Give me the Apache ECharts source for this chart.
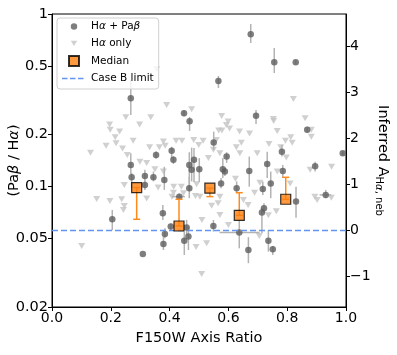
<!DOCTYPE html>
<html>
<head>
<meta charset="utf-8">
<script src="https://cdn.jsdelivr.net/npm/echarts@6/dist/echarts.min.js"></script>
<style>
html, body { margin: 0; padding: 0; background: #fff; }
#main { width: 397px; height: 355px; }
</style>
</head>
<body>
<div id="main"></div>
<script>
// detections: [axis ratio, Paβ/Hα, lower, upper]
var detected = [
  [0.676, 0.763, 0.679, 0.875], [0.756, 0.525, 0.455, 0.635], [0.829, 0.525, 0.51, 0.54],
  [0.566, 0.409, 0.372, 0.437], [0.268, 0.325, 0.260, 0.414], [0.449, 0.266, 0.255, 0.277],
  [0.694, 0.257, 0.230, 0.278], [0.468, 0.239, 0.210, 0.253], [0.868, 0.213, 0.205, 0.222],
  [0.550, 0.180, 0.163, 0.208], [0.354, 0.152, 0.145, 0.160], [0.407, 0.161, 0.146, 0.170],
  [0.413, 0.143, 0.135, 0.150], [0.483, 0.143, 0.106, 0.167], [0.467, 0.133, 0.098, 0.158],
  [0.475, 0.125, 0.107, 0.168], [0.501, 0.126, 0.106, 0.146], [0.594, 0.149, 0.137, 0.158],
  [0.581, 0.126, 0.112, 0.146], [0.588, 0.122, 0.115, 0.128], [0.671, 0.123, 0.0997, 0.149],
  [0.732, 0.135, 0.112, 0.159], [0.782, 0.159, 0.149, 0.174], [0.785, 0.123, 0.112, 0.133],
  [0.895, 0.131, 0.122, 0.139], [0.989, 0.156, 0.152, 0.160], [0.268, 0.133, 0.117, 0.156],
  [0.271, 0.113, 0.098, 0.120], [0.316, 0.115, 0.105, 0.125], [0.345, 0.113, 0.107, 0.122],
  [0.382, 0.109, 0.0955, 0.130], [0.316, 0.102, 0.0955, 0.107], [0.467, 0.0977, 0.0855, 0.114],
  [0.575, 0.104, 0.0977, 0.112], [0.628, 0.0977, 0.0914, 0.107], [0.717, 0.0968, 0.0893, 0.107],
  [0.744, 0.104, 0.0855, 0.122], [0.433, 0.0873, 0.084, 0.091], [0.830, 0.0817, 0.0659, 0.0997],
  [0.931, 0.0893, 0.0855, 0.0955], [0.721, 0.0747, 0.070, 0.080], [0.714, 0.0706, 0.0537, 0.075],
  [0.377, 0.070, 0.064, 0.078], [0.205, 0.0645, 0.0557, 0.0731], [0.404, 0.0585, 0.056, 0.061],
  [0.384, 0.053, 0.0501, 0.0573], [0.379, 0.0464, 0.0428, 0.0512], [0.309, 0.0406, 0.0406, 0.0406],
  [0.458, 0.0579, 0.0524, 0.064], [0.464, 0.0512, 0.0428, 0.0585], [0.450, 0.0485, 0.0401, 0.0547],
  [0.549, 0.059, 0.0547, 0.064], [0.637, 0.054, 0.0438, 0.064], [0.668, 0.0428, 0.0359, 0.0508],
  [0.736, 0.0485, 0.0419, 0.0557], [0.751, 0.0432, 0.0401, 0.0452]
];
// horizontal errors: [ratio, axis ratio low, axis ratio high]
var detectedXErr = [
  [0.0873, 0.408, 0.452], [0.0893, 0.910, 0.950], [0.054, 0.570, 0.706]
];
// Hα only (upper limits)
var haOnly = [
  [0.356, 0.478], [0.390, 0.297], [0.475, 0.280], [0.821, 0.321], [0.251, 0.252], [0.336, 0.252],
  [0.577, 0.256], [0.753, 0.246], [0.861, 0.249], [0.298, 0.229], [0.196, 0.229], [0.198, 0.213],
  [0.230, 0.208], [0.215, 0.193], [0.276, 0.184], [0.218, 0.178], [0.184, 0.172], [0.240, 0.166],
  [0.379, 0.182], [0.422, 0.184], [0.442, 0.184], [0.482, 0.186], [0.385, 0.172], [0.365, 0.169],
  [0.499, 0.174], [0.332, 0.169], [0.599, 0.238], [0.593, 0.227], [0.604, 0.217], [0.638, 0.208],
  [0.672, 0.203], [0.754, 0.240], [0.766, 0.210], [0.882, 0.213], [0.882, 0.194], [0.812, 0.193],
  [0.817, 0.179], [0.794, 0.184], [0.738, 0.176], [0.778, 0.169], [0.644, 0.179], [0.627, 0.169],
  [0.514, 0.184], [0.567, 0.211], [0.578, 0.211], [0.559, 0.186], [0.131, 0.157], [0.256, 0.152],
  [0.299, 0.139], [0.322, 0.137], [0.350, 0.126], [0.152, 0.0847], [0.197, 0.0824], [0.237, 0.0843],
  [0.246, 0.077], [0.322, 0.0852], [0.379, 0.122], [0.413, 0.092], [0.447, 0.0913], [0.492, 0.103],
  [0.503, 0.0873], [0.532, 0.146], [0.549, 0.163], [0.571, 0.156], [0.639, 0.156], [0.698, 0.156],
  [0.707, 0.105], [0.766, 0.122], [0.810, 0.104], [0.878, 0.125], [0.951, 0.130], [0.902, 0.0835],
  [0.736, 0.068], [0.571, 0.0873], [0.651, 0.0835], [0.246, 0.102], [0.361, 0.0986], [0.414, 0.0995],
  [0.440, 0.0995], [0.408, 0.0873], [0.488, 0.088], [0.797, 0.147], [0.624, 0.111], [0.689, 0.092],
  [0.763, 0.0717], [0.510, 0.064], [0.565, 0.080], [0.667, 0.078], [0.950, 0.086], [0.894, 0.0873],
  [0.101, 0.0452], [0.243, 0.0731], [0.490, 0.0445], [0.526, 0.0469], [0.509, 0.0311], [0.600, 0.0597],
  [0.571, 0.0684], [0.705, 0.0516], [0.543, 0.0773]
];
// medians in bins
var medianX = [0.288, 0.432, 0.537, 0.637, 0.795];
var medianY = [0.0985, 0.059, 0.0977, 0.068, 0.0843];
var medianLo = [0.0645, 0.059, 0.0873, 0.068, 0.0843];
var medianHi = [0.0985, 0.0843, 0.0977, 0.092, 0.113];

var caseB = 0.0556;          // intrinsic Paβ/Hα
var aPerDex = 3.75;          // A_Hα per dex of ratio
var ratioTicks = [0.02, 0.05, 0.1, 0.2, 0.5, 1];
var aTicks = [-1, 0, 1, 2, 3, 4];

var FONT = 'DejaVu Sans';
var myChart = echarts.init(document.getElementById('main'));

// vertical error bars
function vErr(color, width, cap) {
  return function (params, api) {
    var p1 = api.coord([api.value(0), api.value(1)]);
    var p2 = api.coord([api.value(0), api.value(2)]);
    var st = { stroke: color, lineWidth: width };
    var ch = [{ type: 'line', shape: { x1: p1[0], y1: p1[1], x2: p2[0], y2: p2[1] }, style: st }];
    if (cap) {
      ch.push({ type: 'line', shape: { x1: p1[0] - cap, y1: p1[1], x2: p1[0] + cap, y2: p1[1] }, style: st });
      ch.push({ type: 'line', shape: { x1: p2[0] - cap, y1: p2[1], x2: p2[0] + cap, y2: p2[1] }, style: st });
    }
    return { type: 'group', children: ch };
  };
}
function hErr(params, api) {
  var p1 = api.coord([api.value(1), api.value(0)]);
  var p2 = api.coord([api.value(2), api.value(0)]);
  return { type: 'line', shape: { x1: p1[0], y1: p1[1], x2: p2[0], y2: p2[1] },
           style: { stroke: '#b3b3b3', lineWidth: 1.5 } };
}

var medianData = medianX.map(function (x, i) { return [x, medianY[i]]; });
var medianErr = medianX.map(function (x, i) { return [x, medianLo[i], medianHi[i]]; });

var legendNames = {
  'Hα + Paβ': 'H{i|α} + Pa{i|β}',
  'Hα only': 'H{i|α} only',
  'Median': 'Median',
  'Case B limit': 'Case B limit'
};

var option = {
  animation: false,
  textStyle: { fontFamily: FONT },
  grid: { left: 52, right: 51, top: 14, bottom: 48, containLabel: false, outerBoundsMode: 'none',
          show: true, borderColor: '#000', borderWidth: 1, backgroundColor: 'transparent' },
  legend: {
    left: 57, top: 18, orient: 'vertical', selectedMode: false,
    padding: [3, 5, 5, 5], itemGap: 6, itemWidth: 24, itemHeight: 10,
    backgroundColor: 'rgba(255,255,255,0.8)', borderColor: '#d0d0d0', borderWidth: 1, borderRadius: 3,
    textStyle: { fontFamily: FONT, fontSize: 10.5, color: '#000',
                 rich: { i: { fontFamily: FONT, fontSize: 10.5, fontStyle: 'italic' } } },
    formatter: function (n) { return legendNames[n] || n; },
    data: [
      { name: 'Hα + Paβ', icon: 'path://M0,0 M10,10 M8.2,5 A3.2,3.2 0 1 1 1.8,5 A3.2,3.2 0 1 1 8.2,5 Z' },
      { name: 'Hα only', icon: 'path://M0,0 M10,10 M1.8,2.2 L8.2,2.2 L5,7.6 Z' },
      { name: 'Median', icon: 'path://M0,0 L10,0 L10,10 L0,10 Z' },
      { name: 'Case B limit',
        icon: 'path://M0,0 M24,10 M0,4.3 h5.5 v1.4 h-5.5 Z M8,4.3 h5.5 v1.4 h-5.5 Z M16,4.3 h5.5 v1.4 h-5.5 Z' }
    ]
  },
  xAxis: {
    type: 'value', min: 0, max: 1, interval: 0.2,
    name: 'F150W Axis Ratio', nameLocation: 'middle', nameGap: 24, nameMoveOverlap: false,
    nameTextStyle: { fontFamily: FONT, fontSize: 14.5, color: '#000' },
    axisLine: { onZero: false, lineStyle: { color: '#000', width: 1 } },
    axisTick: { length: 4, lineStyle: { color: '#000' } },
    axisLabel: { margin: 4, fontSize: 14, color: '#000', fontFamily: FONT,
                 formatter: function (v) { return v.toFixed(1); } },
    splitLine: { show: false }
  },
  yAxis: [
    {
      type: 'log', logBase: 10, min: 0.02, max: 1,
      name: '(Pa{i|β} / H{i|α})', nameLocation: 'middle', nameGap: 30, nameRotate: 90, nameMoveOverlap: false,
      nameTextStyle: { fontFamily: FONT, fontSize: 14.5, color: '#000',
                       rich: { i: { fontFamily: FONT, fontSize: 14.5, fontStyle: 'italic' } } },
      axisLine: { show: true, onZero: false, lineStyle: { color: '#000', width: 1 } },
      axisTick: { length: 4, lineStyle: { color: '#000' }, customValues: ratioTicks },
      axisLabel: { margin: 4, fontSize: 14.5, color: '#000', fontFamily: FONT, customValues: ratioTicks,
                   formatter: function (v) { return String(+(+v).toPrecision(3)); } },
      minorTick: { show: false },
      splitLine: { show: false }
    },
    {
      type: 'value', position: 'right',
      min: aPerDex * Math.log10(ratioTicks[0] / caseB),
      max: aPerDex * Math.log10(1 / caseB),
      name: 'Inferred A{sub|H}{subi|α}{sub|, neb}', nameLocation: 'middle', nameGap: 28, nameRotate: -90,
      nameMoveOverlap: false,
      nameTextStyle: { fontFamily: FONT, fontSize: 14.5, color: '#000',
                       rich: { sub: { fontFamily: FONT, fontSize: 10, verticalAlign: 'bottom', padding: [8, 0, 0, 0] },
                               subi: { fontFamily: FONT, fontSize: 10, fontStyle: 'italic', verticalAlign: 'bottom', padding: [8, 0, 0, 0] } } },
      axisLine: { show: true, onZero: false, lineStyle: { color: '#000', width: 1 } },
      axisTick: { length: 4, lineStyle: { color: '#000' }, customValues: aTicks },
      axisLabel: { margin: 4, fontSize: 14, color: '#000', fontFamily: FONT, customValues: aTicks,
                   formatter: function (v) { return v < 0 ? '\u2212' + Math.abs(v) : String(v); } },
      splitLine: { show: false }
    }
  ],
  series: [
    {
      name: 'Hα only', type: 'scatter', z: 1,
      symbol: 'path://M0,0 L10,0 L5,8.5 Z', symbolSize: [7, 6],
      itemStyle: { color: '#c4c4c4' },
      data: haOnly
    },
    {
      name: 'detErrY', type: 'custom', z: 2, renderItem: vErr('#b3b3b3', 1.5, 0),
      encode: { x: 0, y: [1, 2] },
      data: detected.map(function (d) { return [d[0], d[2], d[3]]; })
    },
    {
      name: 'detErrX', type: 'custom', z: 2, renderItem: hErr,
      encode: { x: [1, 2], y: 0 },
      data: detectedXErr
    },
    {
      name: 'Hα + Paβ', type: 'scatter', z: 3,
      symbol: 'circle', symbolSize: 6.5,
      itemStyle: { color: '#5e5e5e' },
      data: detected.map(function (d) { return [d[0], d[1]]; })
    },
    {
      name: 'Case B limit', type: 'line', z: 4, symbol: 'none', silent: true,
      lineStyle: { color: '#6495ed', width: 1.5, type: [6, 3] },
      itemStyle: { color: '#6495ed' },
      data: [[0, caseB], [1, caseB]]
    },
    {
      name: 'medErr', type: 'custom', z: 5, renderItem: vErr('#ff8a1c', 1.5, 3.5),
      encode: { x: 0, y: [1, 2] },
      data: medianErr
    },
    {
      name: 'Median', type: 'scatter', z: 6,
      symbol: 'rect', symbolSize: 10,
      itemStyle: { color: '#ff7f0e', borderColor: '#000', borderWidth: 1.2 },
      data: medianData
    }
  ]
};
myChart.setOption(option);
</script>
</body>
</html>
